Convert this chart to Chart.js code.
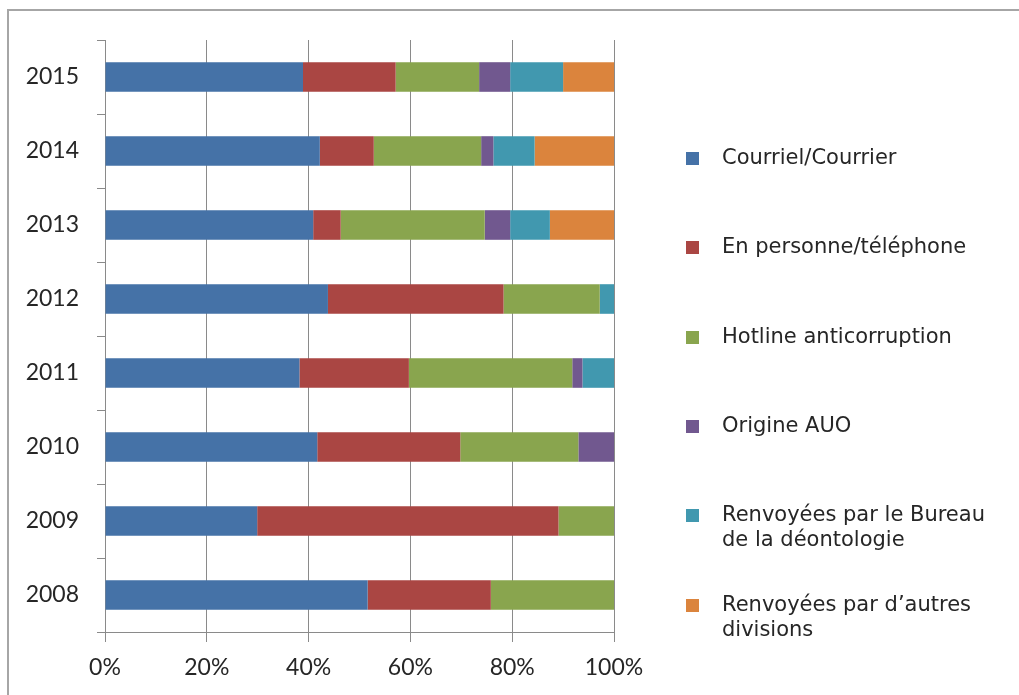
<!DOCTYPE html>
<html>
<head>
<meta charset="utf-8">
<script src="https://cdn.jsdelivr.net/npm/chart.js@4/dist/chart.umd.min.js"></script>
<style>
  html, body { margin: 0; padding: 0; background: #fff; overflow: hidden; }
  #wrap { position: relative; width: 1019px; height: 695px; overflow: hidden; }
  #frame { position: absolute; left: 7px; top: 9px; width: 1012px; height: 686px; border-left: 2px solid #a6a6a6; border-top: 2px solid #a6a6a6; box-sizing: border-box; }
  canvas { position: absolute; left: 0; top: 0; }
  #legend { position: absolute; left: 0; top: 0; font-family: "DejaVu Sans", Verdana, sans-serif; font-size: 21px; color: #262626; }
  .item { position: absolute; left: 686px; }
  .sw { position: absolute; left: 0; width: 13px; height: 13px; }
  .tx { position: absolute; left: 36px; white-space: nowrap; line-height: 25px; }
</style>
</head>
<body>
<div id="wrap">
  <div id="frame"></div>
  <canvas id="c" width="1019" height="695"></canvas>
  <div id="legend"></div>
</div>
<script>
const categories = ['2015', '2014', '2013', '2012', '2011', '2010', '2009', '2008'];
const seriesNames = [
  ['Courriel/Courrier'],
  ['En personne/téléphone'],
  ['Hotline anticorruption'],
  ['Origine AUO'],
  ['Renvoyées par le Bureau', 'de la déontologie'],
  ['Renvoyées par d\u2019autres', 'divisions']
];
const courriel   = [38.9, 42.2, 40.9, 43.8, 38.2, 41.7, 29.9, 51.6];
const personne   = [18.2, 10.6,  5.4, 34.5, 21.5, 28.1, 59.2, 24.2];
const hotline    = [16.4, 21.1, 28.3, 18.9, 32.1, 23.2, 10.9, 24.2];
const origineAUO = [ 6.1,  2.4,  5.0,  0.0,  2.0,  7.0,  0.0,  0.0];
const bureau     = [10.4,  8.1,  7.8,  2.8,  6.2,  0.0,  0.0,  0.0];
const autres     = [10.0, 15.6, 12.6,  0.0,  0.0,  0.0,  0.0,  0.0];
const xTickValues = [0, 20, 40, 60, 80, 100];
const colors = ['#4572A7', '#AA4643', '#89A54E', '#71588F', '#4198AF', '#DB843D'];

const seriesData = [courriel, personne, hotline, origineAUO, bureau, autres];
const datasets = seriesData.map((d, i) => ({
  label: seriesNames[i].join(' '),
  data: d,
  backgroundColor: colors[i],
  borderWidth: 0,
  barPercentage: 0.4,
  categoryPercentage: 1.0
}));

const axisColor = '#8a8a8a';
new Chart(document.getElementById('c'), {
  type: 'bar',
  data: { labels: categories, datasets },
  options: {
    indexAxis: 'y',
    responsive: false,
    animation: false,
    devicePixelRatio: 1,
    layout: { padding: { top: 40, right: 405, left: 0, bottom: 0 } },
    plugins: { legend: { display: false }, tooltip: { enabled: false } },
    scales: {
      x: {
        stacked: true,
        min: 0, max: 100,
        afterBuildTicks: s => { s.ticks = xTickValues.map(v => ({ value: v })); },
        afterFit: s => { s.height = 63; },
        ticks: {
          callback: v => v + '%',
          font: { family: 'Lato', size: 23 },
          color: '#262626',
          padding: 12,
          maxRotation: 0
        },
        grid: { color: axisColor, lineWidth: 1, tickLength: 10, drawTicks: true },
        border: { display: true, color: axisColor, width: 1 }
      },
      y: {
        stacked: true,
        afterFit: s => { s.width = 105; },
        ticks: {
          font: { family: 'Lato', size: 23 },
          color: '#262626',
          padding: 18
        },
        grid: { drawOnChartArea: false, drawTicks: true, tickLength: 8, color: axisColor, offset: true },
        border: { display: true, color: axisColor, width: 1 }
      }
    }
  }
});

// Legend built from the series arrays
const legend = document.getElementById('legend');
seriesNames.forEach((lines, i) => {
  const item = document.createElement('div');
  item.className = 'item';
  item.style.top = (158 + 89.3 * i) + 'px';
  const sw = document.createElement('div');
  sw.className = 'sw';
  sw.style.background = colors[i];
  sw.style.top = '-6px';
  const tx = document.createElement('div');
  tx.className = 'tx';
  tx.style.top = '-13px';
  tx.innerHTML = lines.join('<br>');
  item.appendChild(sw);
  item.appendChild(tx);
  legend.appendChild(item);
});
</script>
</body>
</html>
